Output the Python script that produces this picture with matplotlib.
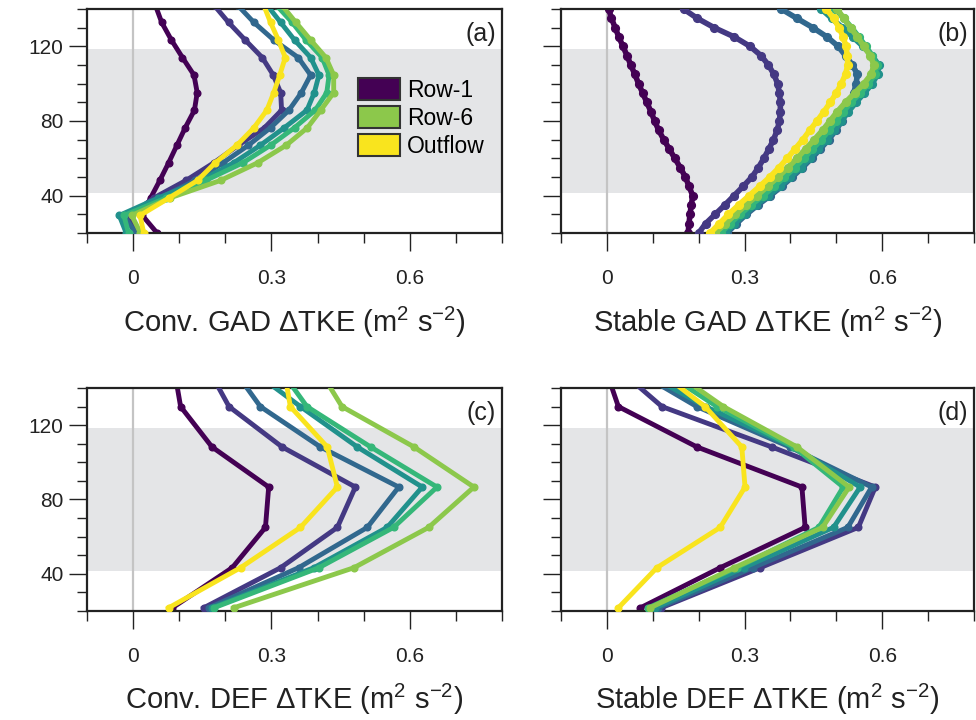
import matplotlib
matplotlib.use('Agg')
import matplotlib.pyplot as plt
from matplotlib.patches import Patch
from matplotlib.ticker import MultipleLocator, FixedLocator

plt.rcParams['font.family'] = ['Liberation Sans', 'DejaVu Sans']
plt.rcParams['mathtext.fontset'] = 'custom'
plt.rcParams['mathtext.rm'] = 'Liberation Sans'
plt.rcParams['mathtext.it'] = 'Liberation Sans:italic'

series_names = ['Row-1', 'Row-2', 'Row-3', 'Row-4', 'Row-5', 'Row-6', 'Outflow']
colors = ['#440154', '#443983', '#31688e', '#21918c', '#35b779', '#8cc84b', '#f9e41e']

# ---------------- panel (a): Conv. GAD ----------------
z_a = [20.0, 29.4, 38.8, 48.2, 57.6, 67.0, 76.4, 85.8, 95.2, 104.6, 114.0, 123.4, 132.8, 142.2]
a_row1 = [0.052, 0.020, 0.038, 0.058, 0.077, 0.095, 0.113, 0.133, 0.139, 0.132, 0.107, 0.083, 0.062, 0.048]
a_row2 = [0.005, -0.008, 0.045, 0.115, 0.175, 0.228, 0.285, 0.322, 0.320, 0.304, 0.280, 0.243, 0.207, 0.175]
a_row3 = [0.005, -0.020, 0.058, 0.135, 0.195, 0.250, 0.298, 0.338, 0.365, 0.385, 0.358, 0.305, 0.262, 0.226]
a_row4 = [-0.015, -0.030, 0.055, 0.148, 0.218, 0.276, 0.328, 0.377, 0.393, 0.403, 0.385, 0.350, 0.320, 0.290]
a_row5 = [-0.010, -0.020, 0.072, 0.158, 0.238, 0.298, 0.350, 0.395, 0.420, 0.425, 0.410, 0.375, 0.345, 0.310]
a_row6 = [0.016, -0.003, 0.080, 0.190, 0.270, 0.332, 0.378, 0.407, 0.435, 0.435, 0.418, 0.385, 0.353, 0.322]
a_out = [0.023, 0.015, 0.078, 0.140, 0.178, 0.225, 0.262, 0.290, 0.305, 0.318, 0.330, 0.315, 0.298, 0.283]

# ---------------- panel (b): Stable GAD ----------------
z_b = [20, 25, 30, 35, 40, 45, 50, 55, 60, 65, 70, 75, 80, 85, 90, 95, 100, 105, 110, 115, 120, 125, 130, 135, 140]
b_row1 = [0.177, 0.179, 0.181, 0.184, 0.187, 0.179, 0.171, 0.160, 0.148, 0.136, 0.124, 0.113, 0.104, 0.096, 0.087,
          0.078, 0.069, 0.061, 0.052, 0.044, 0.035, 0.026, 0.018, 0.010, 0.004]
b_row2 = [0.200, 0.215, 0.236, 0.257, 0.277, 0.297, 0.316, 0.330, 0.342, 0.353, 0.363, 0.371, 0.376, 0.378, 0.378,
          0.376, 0.372, 0.364, 0.352, 0.336, 0.312, 0.278, 0.234, 0.197, 0.167]
b_row3 = [0.262, 0.282, 0.304, 0.329, 0.356, 0.381, 0.404, 0.426, 0.446, 0.465, 0.483, 0.499, 0.512, 0.523, 0.531,
          0.538, 0.543, 0.546, 0.535, 0.520, 0.504, 0.480, 0.449, 0.414, 0.380]
b_row4 = [0.258, 0.278, 0.300, 0.324, 0.352, 0.377, 0.400, 0.422, 0.442, 0.461, 0.479, 0.496, 0.511, 0.526, 0.543,
          0.561, 0.578, 0.590, 0.592, 0.578, 0.558, 0.536, 0.513, 0.490, 0.467]
b_row5 = [0.248, 0.268, 0.290, 0.314, 0.340, 0.364, 0.387, 0.409, 0.429, 0.448, 0.467, 0.484, 0.500, 0.515, 0.532,
          0.552, 0.570, 0.584, 0.588, 0.578, 0.564, 0.549, 0.533, 0.516, 0.498]
b_row6 = [0.236, 0.258, 0.280, 0.303, 0.327, 0.350, 0.373, 0.394, 0.414, 0.433, 0.452, 0.470, 0.486, 0.502, 0.520,
          0.540, 0.560, 0.576, 0.582, 0.574, 0.560, 0.546, 0.531, 0.516, 0.502]
b_out = [0.225, 0.245, 0.265, 0.287, 0.310, 0.333, 0.355, 0.375, 0.393, 0.410, 0.427, 0.442, 0.458, 0.473, 0.487,
         0.500, 0.511, 0.520, 0.525, 0.524, 0.521, 0.515, 0.506, 0.494, 0.478]

# ---------------- panels (c), (d): DEF ----------------
z_cd = [21.7, 43.3, 65.0, 86.7, 108.3, 130.0, 151.7]
c_row1 = [0.085, 0.215, 0.287, 0.294, 0.171, 0.103, 0.088]
c_row2 = [0.153, 0.320, 0.443, 0.482, 0.323, 0.208, 0.160]
c_row3 = [0.164, 0.359, 0.508, 0.576, 0.406, 0.276, 0.213]
c_row4 = [0.171, 0.392, 0.551, 0.627, 0.486, 0.363, 0.245]
c_row5 = [0.175, 0.403, 0.565, 0.659, 0.515, 0.377, 0.314]
c_row6 = [0.218, 0.479, 0.641, 0.739, 0.609, 0.453, 0.399]
c_out = [0.077, 0.233, 0.363, 0.443, 0.421, 0.341, 0.326]

d_row1 = [0.073, 0.247, 0.432, 0.425, 0.196, 0.025, -0.005]
d_row2 = [0.118, 0.334, 0.548, 0.585, 0.359, 0.120, 0.018]
d_row3 = [0.112, 0.318, 0.525, 0.577, 0.398, 0.196, 0.046]
d_row4 = [0.105, 0.298, 0.494, 0.552, 0.405, 0.215, 0.057]
d_row5 = [0.090, 0.283, 0.462, 0.515, 0.407, 0.240, 0.105]
d_row6 = [0.094, 0.278, 0.470, 0.528, 0.414, 0.254, 0.128]
d_out = [0.025, 0.109, 0.247, 0.301, 0.294, 0.214, 0.099]

rotor_bottom, rotor_top = 41.5, 118.5
xlabels = ['Conv. GAD \u0394TKE (m$^{2}$ s$^{-2}$)', 'Stable GAD \u0394TKE (m$^{2}$ s$^{-2}$)',
           'Conv. DEF \u0394TKE (m$^{2}$ s$^{-2}$)', 'Stable DEF \u0394TKE (m$^{2}$ s$^{-2}$)']
panel_tags = ['(a)', '(b)', '(c)', '(d)']
xticks_major = [0, 0.3, 0.6]
xtick_labels = ['0', '0.3', '0.6']
yticks_major = [40, 80, 120]

panels = [
    (z_a, [a_row1, a_row2, a_row3, a_row4, a_row5, a_row6, a_out]),
    (z_b, [b_row1, b_row2, b_row3, b_row4, b_row5, b_row6, b_out]),
    (z_cd, [c_row1, c_row2, c_row3, c_row4, c_row5, c_row6, c_out]),
    (z_cd, [d_row1, d_row2, d_row3, d_row4, d_row5, d_row6, d_out]),
]

fig = plt.figure(figsize=(9.76, 7.2), dpi=100)
W, H = 976.0, 720.0
rects = [
    [87 / W, 1 - 233 / H, 415 / W, 224 / H],
    [561 / W, 1 - 233 / H, 413 / W, 224 / H],
    [87 / W, 1 - 611 / H, 415 / W, 223 / H],
    [561 / W, 1 - 611 / H, 413 / W, 223 / H],
]

for i, (rect, (z, data)) in enumerate(zip(rects, panels)):
    ax = fig.add_axes(rect)
    ax.axhspan(rotor_bottom, rotor_top, color='#e4e5e7', lw=0, zorder=0)
    ax.axvline(0, color='#c4c4c4', lw=1.6, zorder=1)
    dense = (i == 1)
    for k, (vals, col) in enumerate(zip(data, colors)):
        ax.plot(vals, z, color=col, lw=4.0 if dense else 3.5, marker='o',
                ms=5.6 if dense else 4.8, mec=col, mfc=col, zorder=2 + k,
                solid_joinstyle='round', clip_on=True)
    ax.set_xlim(-0.1, 0.8)
    ax.set_ylim(20, 140)
    ax.xaxis.set_major_locator(FixedLocator(xticks_major))
    ax.set_xticklabels(xtick_labels)
    ax.xaxis.set_minor_locator(MultipleLocator(0.1))
    ax.yaxis.set_major_locator(FixedLocator(yticks_major))
    ax.yaxis.set_minor_locator(MultipleLocator(10))
    ax.tick_params(axis='both', which='major', direction='out', length=13, width=1.0,
                   labelsize=15, colors='#222222')
    ax.tick_params(axis='both', which='minor', direction='out', length=7, width=1.0, colors='#222222')
    ax.tick_params(axis='x', which='major', pad=13)
    ax.tick_params(axis='y', which='major', pad=4)
    if i in (1, 3):
        ax.tick_params(axis='y', labelleft=False)
    for sp in ax.spines.values():
        sp.set_linewidth(1.6)
        sp.set_color('#222222')
    ax.set_xlabel(xlabels[i], fontsize=21, color='#222222')
    ax.xaxis.label.set_va('center')
    ax.xaxis.set_label_coords(0.5, -0.398)
    ax.text(0.985, 0.89, panel_tags[i], transform=ax.transAxes, ha='right', va='center',
            fontsize=18, color='#222222')
    if i == 0:
        handles = [Patch(facecolor=colors[0], edgecolor='#333333', lw=1.5),
                   Patch(facecolor=colors[5], edgecolor='#333333', lw=1.5),
                   Patch(facecolor=colors[6], edgecolor='#333333', lw=1.5)]
        ax.legend(handles, [series_names[0], series_names[5], series_names[6]],
                  loc='upper left', bbox_to_anchor=(0.653, 0.69), frameon=False,
                  fontsize=16.5, handlelength=1.85, handleheight=1.1, labelspacing=0.18,
                  handletextpad=0.3, borderpad=0, borderaxespad=0)

fig.savefig('out.png', dpi=100)
